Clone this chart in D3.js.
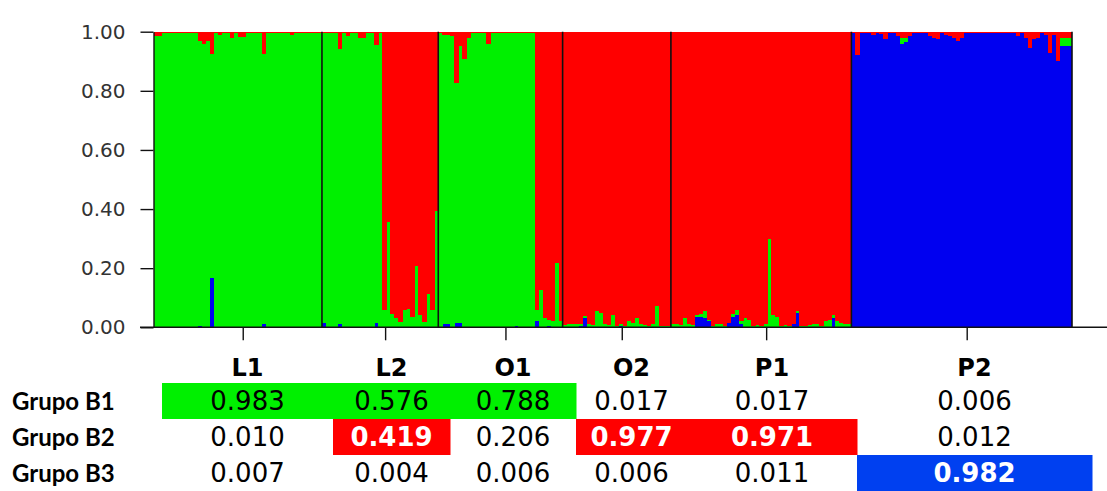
<!DOCTYPE html>
<html>
<head>
<meta charset="utf-8">
<script src="https://cdn.jsdelivr.net/npm/d3@7"></script>
<style>
  html, body { margin: 0; padding: 0; background: #ffffff; }
  svg { display: block; }
</style>
</head>
<body>
<svg id="chart" width="1107" height="491"></svg>
<script>
// Ancestry coefficients per individual, left to right: [green (B1), red (B2), blue (B3)]
const L1 = [
  [0.985,0.015,0],[0.985,0.015,0],[0.995,0.005,0],[0.995,0.005,0],[0.995,0.005,0],[0.995,0.005,0],
  [0.995,0.005,0],[0.995,0.005,0],[0.995,0.005,0],[0.995,0.005,0],[0.995,0.005,0],[0.965,0.03,0.005],
  [0.96,0.04,0],[0.97,0.03,0],[0.759,0.075,0.166],[0.995,0.005,0],[0.99,0.01,0],[0.995,0.005,0],
  [0.995,0.005,0],[0.98,0.02,0],[0.995,0.005,0],[0.983,0.017,0],[0.983,0.017,0],[0.995,0.005,0],
  [0.995,0.005,0],[0.995,0.005,0],[0.995,0.005,0],[0.915,0.075,0.01],[0.995,0.005,0],[0.995,0.005,0],
  [0.995,0.005,0],[0.995,0.005,0],[0.995,0.005,0],[0.995,0.005,0],[0.99,0.01,0],[0.995,0.005,0],
  [0.995,0.005,0],[0.995,0.005,0],[0.995,0.005,0],[0.995,0.005,0],[0.995,0.005,0],[0.995,0.005,0]
];
const L2 = [
  [0.982,0.005,0.013],[0.995,0.005,0],[0.995,0.005,0],[0.995,0.005,0],[0.93,0.06,0.01],[0.995,0.005,0],
  [0.985,0.015,0],[0.995,0.005,0],[0.995,0.005,0],[0.98,0.02,0],[0.98,0.02,0],[0.995,0.005,0],
  [0.995,0.005,0],[0.94,0.045,0.015],[0.995,0.005,0],
  [0.058,0.942,0],[0.357,0.643,0],[0.046,0.954,0],[0.03,0.97,0],[0.018,0.982,0],[0.06,0.94,0],
  [0.063,0.937,0],[0.035,0.965,0],[0.208,0.792,0],[0.04,0.96,0],[0.018,0.982,0],[0.114,0.886,0],
  [0.06,0.94,0],[0.394,0.606,0]
];
const O1 = [
  [0.995,0.005,0],[0.98,0.01,0.01],[0.98,0.01,0.01],[0.985,0.015,0],[0.811,0.175,0.014],[0.936,0.05,0.014],
  [0.906,0.094,0],[0.98,0.02,0],[0.995,0.005,0],[0.995,0.005,0],[0.995,0.005,0],[0.995,0.005,0],
  [0.96,0.04,0],[0.995,0.005,0],[0.995,0.005,0],[0.995,0.005,0],[0.995,0.005,0],[0.995,0.005,0],
  [0.995,0.005,0],[0.99,0.005,0.005],[0.995,0.005,0],[0.995,0.005,0],[0.995,0.005,0],[0.995,0.005,0],
  [0.04,0.94,0.02],[0.125,0.875,0],[0.03,0.97,0],[0.02,0.975,0.005],[0.02,0.98,0],[0.216,0.784,0],
  [0.02,0.98,0]
];
const O2 = [
  [0.008,0.992,0],[0.01,0.99,0],[0.012,0.988,0],[0.012,0.988,0],[0.005,0.99,0.005],[0.005,0.963,0.032],
  [0.01,0.99,0],[0.008,0.992,0],[0.055,0.945,0],[0.048,0.952,0],[0.01,0.99,0],[0.008,0.992,0],
  [0.043,0.957,0],[0.005,0.995,0],[0.005,0.99,0.005],[0.005,0.995,0],[0.02,0.98,0],[0.015,0.985,0],
  [0.03,0.97,0],[0.012,0.988,0],[0.008,0.992,0],[0.006,0.994,0],[0.01,0.99,0],[0.072,0.928,0],
  [0.005,0.995,0],[0.005,0.995,0],[0.004,0.996,0]
];
const P1 = [
  [0.01,0.99,0],[0.01,0.99,0],[0.008,0.992,0],[0.03,0.97,0],[0.01,0.99,0],[0.008,0.992,0],
  [0.005,0.96,0.035],[0.01,0.955,0.035],[0.025,0.945,0.03],[0.005,0.975,0.02],[0.005,0.995,0],[0.012,0.988,0],
  [0.01,0.99,0],[0.005,0.995,0],[0,0.985,0.015],[0.01,0.955,0.035],[0.02,0.94,0.04],[0.01,0.98,0.01],
  [0.03,0.97,0],[0.025,0.975,0],[0.005,0.995,0],[0.008,0.992,0],[0.005,0.995,0],[0.01,0.99,0],
  [0.30,0.70,0],[0.04,0.96,0],[0.035,0.965,0],[0.005,0.995,0],[0.008,0.992,0],[0.005,0.995,0],
  [0,0.99,0.01],[0.005,0.945,0.05],[0.005,0.995,0],[0.005,0.995,0],[0.008,0.992,0],[0.01,0.99,0],
  [0.01,0.99,0],[0.005,0.995,0],[0.02,0.98,0],[0.025,0.975,0],[0.01,0.96,0.03],[0.02,0.98,0],
  [0.015,0.985,0],[0.01,0.99,0],[0.012,0.988,0]
];
const P2 = [
  [0,0.005,0.995],[0,0.08,0.92],[0,0.005,0.995],[0,0.005,0.995],[0,0.005,0.995],[0,0.012,0.988],
  [0,0.005,0.995],[0,0.008,0.992],[0,0.026,0.974],[0,0.005,0.995],[0,0.005,0.995],[0,0.015,0.985],
  [0.02,0.02,0.96],[0.015,0.02,0.965],[0,0.015,0.985],[0,0.005,0.995],[0,0.005,0.995],[0,0.005,0.995],
  [0,0.005,0.995],[0,0.015,0.985],[0,0.02,0.98],[0,0.025,0.975],[0,0.005,0.995],[0,0.01,0.99],
  [0,0.015,0.985],[0,0.02,0.98],[0,0.03,0.97],[0,0.02,0.98],[0,0.005,0.995],[0,0.005,0.995],
  [0,0.005,0.995],[0,0.005,0.995],[0,0.005,0.995],[0,0.005,0.995],[0,0.005,0.995],[0,0.005,0.995],
  [0,0.005,0.995],[0,0.005,0.995],[0,0.005,0.995],[0,0.005,0.995],[0,0.005,0.995],[0,0.015,0.985],
  [0,0.005,0.995],[0,0.02,0.98],[0,0.054,0.946],[0,0.025,0.975],[0,0.02,0.98],[0,0.005,0.995],
  [0,0.01,0.99],[0,0.071,0.929],[0,0.01,0.99],[0,0.10,0.90],[0.03,0.02,0.95],[0.03,0.02,0.95],
  [0.03,0.02,0.95]
];

const popNames = ["L1", "L2", "O1", "O2", "P1", "P2"];
const popData = [L1, L2, O1, O2, P1, P2];

// Mean membership of each population in each group
const groupNames = ["Grupo B1", "Grupo B2", "Grupo B3"];
const meanB1 = [0.983, 0.576, 0.788, 0.017, 0.017, 0.006];
const meanB2 = [0.010, 0.419, 0.206, 0.977, 0.971, 0.012];
const meanB3 = [0.007, 0.004, 0.006, 0.006, 0.011, 0.982];
const yTicks = [0.00, 0.20, 0.40, 0.60, 0.80, 1.00];

// memberships at or above this share are shaded in the group's colour
const highlightMin = 0.4;

// ---- layout & style ----
const W = 1107, H = 491;
const plot = { left: 153.5, right: 1072, top: 31.7, bottom: 327.3 };
const clusterColor = { blue: "#0000f0", green: "#00f000", red: "#ff0000" };
const tableColor = ["#00f000", "#ff0000", "#0040f0"];
const colEdges = [162, 333, 450, 576, 687, 857, 1092];
const rowTop = 383, rowH = 36;

const svg = d3.select("#chart");

// flatten individuals
const individuals = [];
const popInfo = [];
popData.forEach((arr, pi) => {
  popInfo.push({ name: popNames[pi], start: individuals.length, n: arr.length });
  arr.forEach(q => individuals.push({ pop: popNames[pi], green: q[0], red: q[1], blue: q[2] }));
});

const x = d3.scaleLinear().domain([0, individuals.length]).range([plot.left, plot.right]);
const y = d3.scaleLinear().domain([0, 1]).range([plot.bottom, plot.top]);

// stacked bars: blue at the bottom, then green, red on top
const series = d3.stack().keys(["blue", "green", "red"])(individuals);
svg.append("g")
  .selectAll("g")
  .data(series)
  .join("g")
  .attr("fill", d => clusterColor[d.key])
  .selectAll("rect")
  .data(d => d)
  .join("rect")
  .attr("shape-rendering", "crispEdges")
  .attr("x", (d, i) => x(i))
  .attr("width", (d, i) => x(i + 1) - x(i) + 0.4)
  .attr("y", d => y(d[1]))
  .attr("height", d => Math.max(0, y(d[0]) - y(d[1])));

// population separators
const edges = popInfo.map(p => p.start + p.n);
svg.append("g")
  .selectAll("line")
  .data(edges)
  .join("line")
  .attr("x1", d => x(d)).attr("x2", d => x(d))
  .attr("y1", plot.top).attr("y2", plot.bottom)
  .attr("stroke", "#101010")
  .attr("stroke-width", 1.6);

// y axis
const yAxis = d3.axisLeft(y)
  .tickValues(yTicks)
  .tickFormat(d3.format(".2f"))
  .tickSize(13)
  .tickSizeOuter(0)
  .tickPadding(15);
const gy = svg.append("g")
  .attr("transform", `translate(${plot.left},0)`)
  .call(yAxis);
gy.selectAll(".domain").attr("stroke", "#111").attr("stroke-width", 1.4);
gy.selectAll(".tick line").attr("stroke", "#111").attr("stroke-width", 1.4);
gy.selectAll(".tick text")
  .attr("font-family", "DejaVu Sans, Verdana, sans-serif")
  .attr("font-size", 20)
  .attr("fill", "#333");

// x axis: population ticks
const tickShift = 5;
const xTicks = d3.scaleOrdinal(popNames, popInfo.map(p => x(p.start + p.n / 2) + tickShift));
const gx = svg.append("g")
  .attr("transform", `translate(0,${plot.bottom})`)
  .call(d3.axisBottom(xTicks).tickSize(13).tickFormat(""));
gx.select(".domain").remove();
gx.selectAll(".tick line").attr("stroke", "#111").attr("stroke-width", 1.4);
svg.append("line")
  .attr("x1", 140).attr("x2", W)
  .attr("y1", plot.bottom).attr("y2", plot.bottom)
  .attr("stroke", "#111").attr("stroke-width", 1.4);

// ---- membership table ----
const colCenter = popNames.map((p, i) => (colEdges[i] + colEdges[i + 1]) / 2);
const table = svg.append("g");

table.selectAll("text.head")
  .data(popNames)
  .join("text")
  .attr("class", "head")
  .attr("x", (d, i) => colCenter[i])
  .attr("y", 376)
  .attr("text-anchor", "middle")
  .attr("font-family", "DejaVu Sans, Verdana, sans-serif")
  .attr("font-weight", "bold")
  .attr("font-size", 24)
  .attr("fill", "#000")
  .text(d => d);

const rows = [meanB1, meanB2, meanB3];
rows.forEach((vals, r) => {
  const top = rowTop + r * rowH;
  const cells = vals.map((v, c) => ({ v, c, hi: v >= highlightMin }));
  table.append("text")
    .attr("x", 12)
    .attr("y", top + 27)
    .attr("font-family", "Lato, 'Open Sans', sans-serif")
    .attr("font-weight", "bold")
    .attr("font-size", 24)
    .attr("fill", "#000")
    .text(groupNames[r]);
  table.append("g")
    .selectAll("rect")
    .data(cells.filter(d => d.hi))
    .join("rect")
    .attr("x", d => colEdges[d.c])
    .attr("width", d => colEdges[d.c + 1] - colEdges[d.c] + 0.5)
    .attr("y", top)
    .attr("height", rowH)
    .attr("fill", tableColor[r]);
  table.append("g")
    .selectAll("text")
    .data(cells)
    .join("text")
    .attr("x", d => colCenter[d.c])
    .attr("y", top + 27)
    .attr("text-anchor", "middle")
    .attr("font-family", "DejaVu Sans, Verdana, sans-serif")
    .attr("font-size", 26)
    .attr("font-weight", d => (d.hi && r > 0) ? "bold" : "normal")
    .attr("fill", d => (d.hi && r > 0) ? "#fff" : "#000")
    .text(d => d3.format(".3f")(d.v));
});
</script>
</body>
</html>
